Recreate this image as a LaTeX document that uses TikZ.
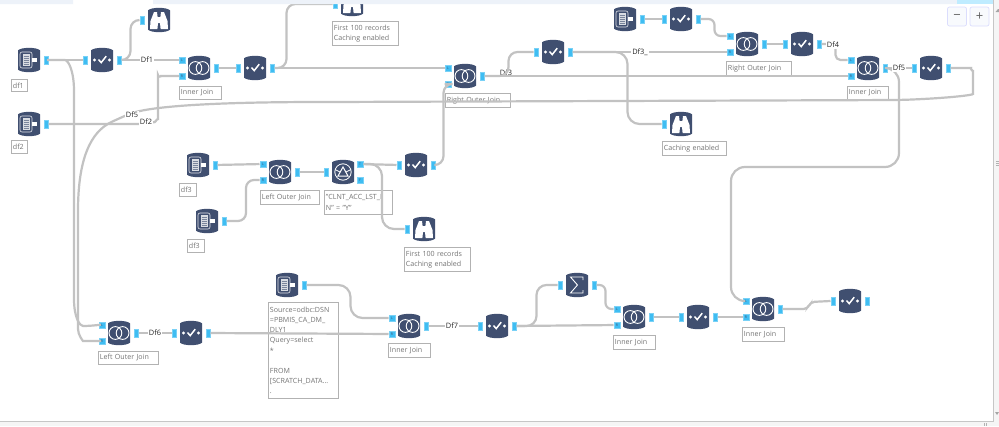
\documentclass[tikz,border=0pt]{standalone}
\usepackage{fontspec}
\setmainfont{Open Sans}
\usepackage{tikz}
\usetikzlibrary{calc}
\usepackage{xcolor}

\definecolor{toolnavy}{HTML}{404F70}
\definecolor{portblue}{HTML}{3FBDF2}
\definecolor{wiregray}{HTML}{C2C2C2}
\definecolor{tagtext}{HTML}{747474}
\definecolor{barblue}{HTML}{EDF2F9}

% tool body, icons are drawn on top of it
\newcommand{\toolbody}[3]{\node (#1) [toolshape] at (#2,#3) {};
  \fill [toolnavy, shift={(#1)}] (-11,-9.6) .. controls (-8,-13) and (8,-13) .. (11,-9.6) -- (11,9.6) .. controls (8,13) and (-8,13) .. (-11,9.6) -- cycle;}
\newcommand{\outport}[1]{\node (#1_o) [port] at ($(#1)+(17,0)$) {};}
\newcommand{\inport}[1]{\node (#1_i) [port] at ($(#1)+(-17,0)$) {};}

\newcommand{\inputtool}[3]{\toolbody{#1}{#2}{#3}\outport{#1}
  \begin{scope}[shift={(#1)}]
    \draw [white!85!toolnavy, line width=.6pt, rounded corners=2pt] (-9,-8) rectangle (3,8);
    \fill [white!80!toolnavy] (-6.5,-6) rectangle (.5,6);
    \foreach \yy in {-4,-2,0,2,4} {\draw [toolnavy!70, line width=.5pt] (-5.5,\yy) -- (-.5,\yy);}
    \fill [white] (3,-2.3) rectangle (7.5,2.3);
  \end{scope}}

\newcommand{\checktool}[3]{\toolbody{#1}{#2}{#3}\inport{#1}\outport{#1}
  \begin{scope}[shift={(#1)}]
    \fill [white] (-7.5,0) circle (1.6) (7.5,0) circle (1.6);
    \draw [white, line width=1.5pt] (-3.5,-.5) -- (-.8,2.6) -- (4.2,-3.8);
  \end{scope}}

\newcommand{\jointool}[3]{\toolbody{#1}{#2}{#3}\outport{#1}
  \node (#1_l) [lrport] at ($(#1)+(-17,-8)$) {L};
  \node (#1_r) [lrport] at ($(#1)+(-17,8)$) {R};
  \begin{scope}[shift={(#1)}]
    \draw [white, line width=.9pt] (-3.6,0) circle (6.4) (3.6,0) circle (6.4);
  \end{scope}}

\newcommand{\browsetool}[3]{\toolbody{#1}{#2}{#3}\inport{#1}
  \begin{scope}[shift={(#1)}]
    \fill [white] (-9,9) -- (-8.5,1) -- (-5,-8) -- (-2,-8) -- (-1.4,-3) -- (1.4,-3) -- (2,-8) -- (5,-8) -- (8.5,1) -- (9,9) -- (1.6,9) -- (1,3) -- (-1,3) -- (-1.6,9) -- cycle;
  \end{scope}}

\newcommand{\sumtool}[3]{\toolbody{#1}{#2}{#3}\inport{#1}\outport{#1}
  \begin{scope}[shift={(#1)}]
    \draw [white, line width=.9pt] (6,-5) -- (6,-8) -- (-6.5,-8) -- (.5,0) -- (-6.5,8) -- (6,8) -- (6,5);
  \end{scope}}

\newcommand{\filtertool}[3]{\toolbody{#1}{#2}{#3}\inport{#1}
  \node (#1_t) [lrport] at ($(#1)+(17,-8)$) {T};
  \node (#1_f) [lrport] at ($(#1)+(17,8)$) {F};
  \begin{scope}[shift={(#1)}]
    \draw [white, line width=.8pt] (0,0) circle (8.2);
    \draw [white, line width=1pt] (-5,4) -- (0,-5) -- (5,4) -- cycle;
    \draw [white, line width=.7pt] (-8,-2.5) -- (-3,0) (8,-2.5) -- (3,0);
  \end{scope}}

\newcommand{\tagbox}[6]{\node (#1) [tagbox, anchor=north west, text width=#4pt-4.6pt, minimum height=#5pt] at (#2,#3) {#6};}

\begin{document}
\begin{tikzpicture}[
    x=1pt, y=-1pt,
    toolshape/.style = {rectangle, draw=none, inner sep=0pt, minimum width=22pt, minimum height=25pt},
    port/.style = {rectangle, draw=portblue!70!white, fill=portblue, line width=.4pt, inner sep=0pt, minimum width=4.6pt, minimum height=7.4pt},
    lrport/.style = {port, minimum width=6.6pt, minimum height=6.2pt, font=\fontsize{3.4}{4}\selectfont, text=toolnavy},
    tagbox/.style = {rectangle, draw=gray!60, fill=white, line width=.7pt, inner sep=1.6pt, align=left, font=\fontsize{7.1}{10.2}\selectfont, text=tagtext},
    wire/.style = {draw=wiregray, line width=2.2pt, rounded corners=9pt},
    dflabel/.style = {fill=white, inner sep=.8pt, font=\fontsize{7.4}{9}\selectfont, text=black!85},
    zoombtn/.style = {rectangle, draw=barblue!70!blue!40!white, fill=barblue!40!white, rounded corners=2pt, line width=.7pt, minimum width=19pt, minimum height=19pt, inner sep=0pt, font=\fontsize{13}{13}\selectfont, text=gray!75!black}
]
\useasboundingbox (0,0) rectangle (999,426);
\fill [white] (0,0) rectangle (999,426);

% Top row
\inputtool{in_df1}{29}{60}
\checktool{chk_a}{102}{60}
\browsetool{brw_a}{159}{20}
\jointool{join_a}{199}{68}
\checktool{chk_b}{255}{68}
\browsetool{brw_b}{352}{4}
\inputtool{in_df2}{29}{124}
\jointool{join_b}{465}{76}
\checktool{chk_c}{553}{52}
\browsetool{brw_c}{681}{124}
\inputtool{in_top}{625}{19}
\checktool{chk_d}{681}{19}
\jointool{join_c}{747}{44}
\checktool{chk_e}{802}{44}
\jointool{join_d}{868}{68}
\checktool{chk_f}{931}{68}

% Middle row
\inputtool{in_df3}{198}{165}
\inputtool{in_df3b}{207}{221}
\jointool{join_e}{280}{172}
\filtertool{flt_a}{343}{172}
\checktool{chk_g}{416}{165}
\browsetool{brw_d}{424}{229}

% Bottom row
\jointool{join_f}{119}{333}
\checktool{chk_h}{191}{333}
\inputtool{in_sql}{287}{285}
\jointool{join_g}{409}{326}
\checktool{chk_i}{497}{326}
\sumtool{sum_a}{577}{285}
\jointool{join_h}{634}{317}
\checktool{chk_j}{698}{317}
\jointool{join_i}{763}{309}
\checktool{chk_k}{850}{301}

% Annotations
\tagbox{tg_df1}{11}{79}{17}{12}{df1}
\tagbox{tg_df2}{11}{140}{17}{13}{df2}
\tagbox{tg_ij_a}{179}{86}{43}{13}{Inner Join}
\tagbox{tg_first_a}{332}{21}{67}{24}{First 100 records\\Caching enabled}
\tagbox{tg_roj_a}{445}{93}{66}{14}{Right Outer Join}
\tagbox{tg_roj_b}{726}{61}{66}{14}{Right Outer Join}
\tagbox{tg_ij_b}{847}{86}{42}{13}{Inner Join}
\tagbox{tg_cache}{662}{141}{65}{14}{Caching enabled}
\tagbox{tg_df3}{179}{183}{18}{13}{df3}
\tagbox{tg_df3b}{187}{239}{18}{13}{df3}
\tagbox{tg_loj_a}{260}{190}{60}{14}{Left Outer Join}
\tagbox{tg_flt}{324}{190}{69}{24}{"CLNT\_ACC\_LST\_I\\N" = "Y"}
\tagbox{tg_first_b}{404}{247}{67}{24}{First 100 records\\Caching enabled}
\tagbox{tg_loj_b}{98}{351}{61}{13}{Left Outer Join}
\tagbox{tg_sql}{268}{302}{71}{96}{Source=odbc:DSN\\=PBMIS\_CA\_DM\_\\DLY1\\Query=select\\{*}\\\mbox{}\\FROM\\{[}SCRATCH\_DATA...\\.}
\tagbox{tg_ij_c}{388}{343}{43}{14}{Inner Join}
\tagbox{tg_ij_d}{613}{335}{43}{14}{Inner Join}
\tagbox{tg_ij_e}{742}{327}{43}{14}{Inner Join}

% Df3 sits under the wire
\node (df_c) [dflabel, fill=none] at (506,73) {Df3};

% Connectors, top row
\draw [wire] (in_df1_o) -- (chk_a_i);
\draw [wire] (chk_a_o.east) -- ++(9,0) |- (brw_a_i.west);
\draw [wire] (chk_a_o) -- (join_a_l);
\draw [wire] (join_a_o) -- (chk_b_i);
\draw [wire] (chk_b_o.east) -- ++(12,0) |- (brw_b_i.west);
\draw [wire] (chk_b_o.east) -- (join_b_l.west);
\draw [wire] (join_b_o.east) -- (join_d_r.west);
\draw [wire] (join_b_o.east) -- ++(24,0) |- (chk_c_i.west);
\draw [wire] (chk_c_o) -- (join_c_r);
\draw [wire, rounded corners=12pt] (chk_c_o.east) -- ++(55,0) |- (brw_c_i.west);
\draw [wire] (in_top_o) -- (chk_d_i);
\draw [wire, rounded corners=6pt] (chk_d_o.east) -- ++(14,0) |- (join_c_l.west);
\draw [wire] (join_c_o) -- (chk_e_i);
\draw [wire, rounded corners=5pt] (chk_e_o.east) -- ++(14,0) |- (join_d_l.west);
\draw [wire] (join_d_o) -- (chk_f_i);
\draw [wire] (in_df2_o.east) -- (146,124) .. controls (155,122) and (158,118) .. (158,110) -- (158,84) .. controls (158,78) and (162,76) .. (170,76) -- (join_a_r.west);

% Long runs
\draw [wire] (in_df1_o.east) -- (56,60) .. controls (68,60) and (74,70) .. (74,100) -- (74,290) .. controls (74,318) and (80,326) .. (92,326) -- (join_f_l.west);
\draw [wire] (chk_f_o.east) -- (962,68) .. controls (970,68) and (973,72) .. (973,80) -- (973,85) .. controls (973,95) and (950,98) .. (900,100) -- (330,102) .. controls (230,102) and (150,105) .. (120,118) .. controls (90,132) and (78,160) .. (78,220) -- (78,320) .. controls (78,335) and (83,341) .. (92,341) -- (join_f_r.west);
\draw [wire, rounded corners=14pt] (join_d_o.east) -- (899,68) -- (899,167) -- (731,167) -- (731,301) -- (join_i_l.west);

% Connectors, middle row
\draw [wire] (in_df3_o) -- (join_e_l);
\draw [wire, rounded corners=8pt] (in_df3b_o.east) -- ++(19.5,0) |- (join_e_r.west);
\draw [wire] (join_e_o) -- (flt_a_i);
\draw [wire] (flt_a_t) -- (chk_g_i);
\draw [wire, rounded corners=12pt] (flt_a_t.east) -- ++(18.5,0) |- (brw_d_i.west);
\draw [wire] (chk_g_o.east) -- ++(8,0) |- (join_b_r.west);

% Connectors, bottom row
\draw [wire] (join_f_o) -- (chk_h_i);
\draw [wire] (chk_h_o) -- (join_g_r);
\draw [wire, rounded corners=12pt] (in_sql_o.east) -- ++(44,0) |- (join_g_l.west);
\draw [wire] (join_g_o) -- (chk_i_i);
\draw [wire] (chk_i_o) -- (join_h_r);
\draw [wire, rounded corners=10pt] (chk_i_o.east) -- ++(20,0) |- (sum_a_i.west);
\draw [wire, rounded corners=6pt] (sum_a_o.east) -- ++(9,0) |- (join_h_l.west);
\draw [wire] (join_h_o) -- (chk_j_i);
\draw [wire] (chk_j_o) -- (join_i_r);
\draw [wire, rounded corners=4pt] (join_i_o.east) -- ++(25,0) -- ++(3,-7) -- (chk_k_i.west);

% Wire names
\node (df_a) [dflabel] at (147,60) {Df1};
\node (df_b) [dflabel] at (146,122) {Df2};
\node (df_e) [dflabel] at (132,115) {Df5};
\node (df_d) [dflabel] at (640,52) {Df3\_};
\node (df_f) [dflabel] at (833,45) {Df4};
\node (df_g) [dflabel] at (899,68) {Df5};
\node (df_h) [dflabel] at (155,333) {Df6};
\node (df_i) [dflabel] at (452,326) {Df7};

% Window chrome
\fill [barblue] (0,0) rectangle (73,4) (153,0) rectangle (957,4);
\fill [blue!30!cyan!25!white] (957,0) rectangle (993,4);
\fill [gray!8] (993,0) rectangle (999,426) (0,421) rectangle (993,426);
\draw [gray!45, line width=.6pt] (993,0) -- (993,421) -- (0,421);
\fill [gray!70] (995.5,12) -- (998,9) -- (999,9) -- (999,12) -- cycle (995,412) -- (999,412) -- (997,415) -- cycle;
\foreach \gg in {161.5,163.5,165.5} {\draw [gray!60, line width=.7pt] (996,\gg) -- (999,\gg);}
\foreach \gg in {984.5,986.5} {\draw [gray!60, line width=.7pt] (\gg,423) -- (\gg,426);}
\node (btn_minus) [zoombtn] at (957,16.5) {−};
\node (btn_plus) [zoombtn] at (979.5,16.5) {+};
\end{tikzpicture}
\end{document}
